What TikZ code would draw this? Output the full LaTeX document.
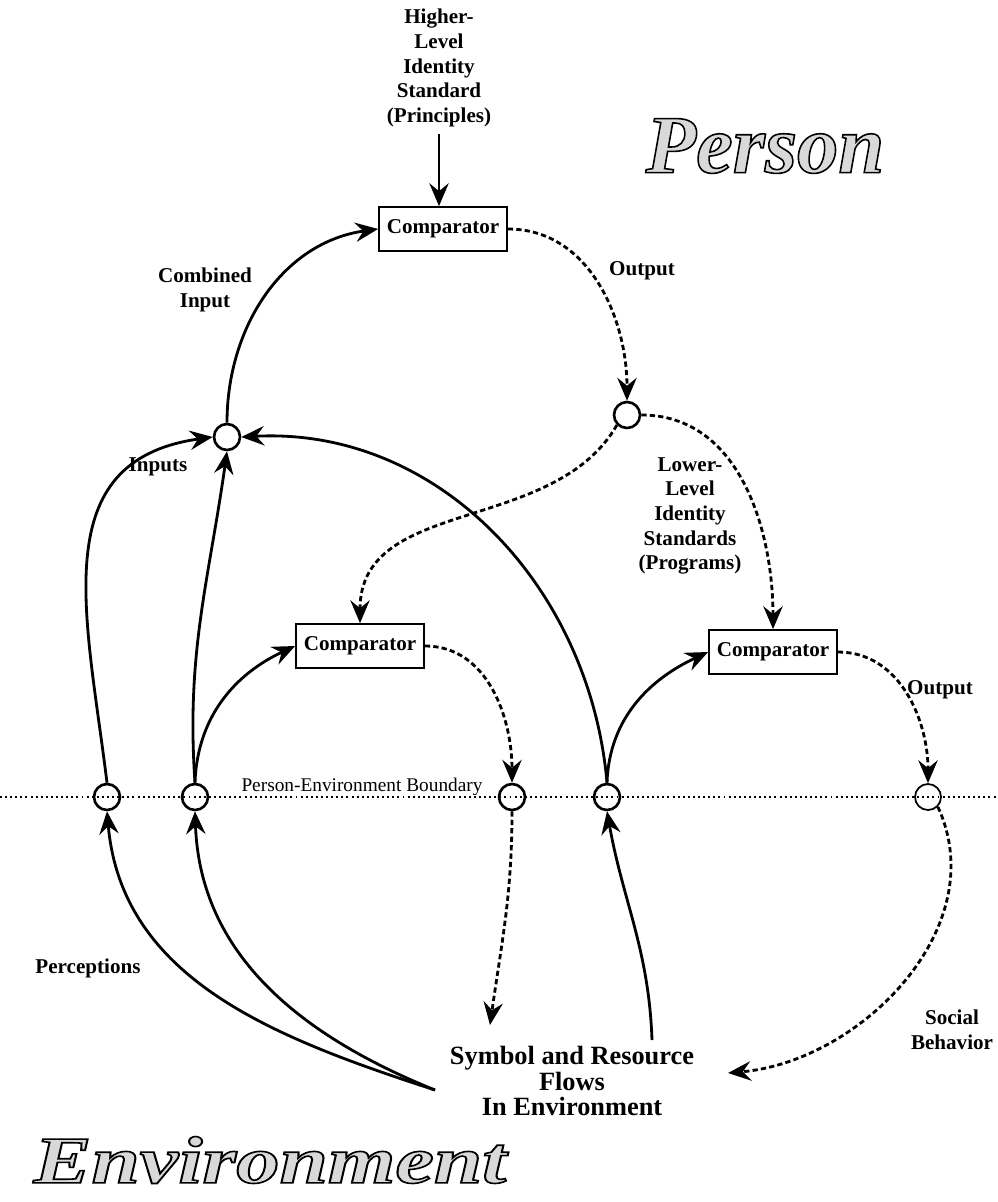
\documentclass[tikz,border=0pt]{standalone}
\usepackage{fontspec}
\setmainfont{Liberation Serif}
\usetikzlibrary{arrows.meta}

% outlined lettering (stroke + light fill)
\newcommand{\outlineword}[1]{\textcolor{black!15}{\special{pdf:literal direct 2 Tr 0.9 w 0 G}#1\special{pdf:literal direct 0 Tr}}}

\begin{document}
\begin{tikzpicture}[x=0.02cm,y=-0.02cm,>={Stealth[length=13pt,width=11pt,inset=4.5pt]},
  line width=1.6pt,
  comp node/.style={draw,line width=1pt,minimum width=2.56cm,minimum height=0.88cm,font=\fontsize{12}{14}\selectfont\bfseries},
  junction/.style={circle,draw,line width=1.5pt,minimum size=0.52cm,inner sep=0pt},
  lbl/.style={align=center,font=\fontsize{12}{14}\selectfont\bfseries},
  flow/.style={->,dash pattern=on 3pt off 1.8pt},
  big word/.style={font=\fontsize{47}{50}\selectfont\bfseries\itshape}]
  \useasboundingbox (0,0) rectangle (997,1202);

  % boundary line
  \coordinate (bl) at (0,797);
  \coordinate (br) at (997,797);
  \draw[line width=1.4pt,dash pattern=on 1.1pt off 1.8pt] (bl) -- (br);
  \node[font=\fontsize{11}{13}\selectfont] (pel) at (362,787) {Person-Environment Boundary};

  % comparators and junctions
  \node[lbl] (hls) at (439,68) {Higher-\\Level\\Identity\\Standard\\(Principles)};
  \node[comp node] (ctop) at (443,229) {Comparator};
  \node[comp node] (cmid) at (360,646) {Comparator};
  \node[comp node] (cright) at (773,652) {Comparator};
  \node[junction] (ci) at (227,437) {};
  \node[junction] (co) at (627,415) {};
  \node[junction] (b1) at (107,797) {};
  \node[junction] (b2) at (195,797) {};
  \node[junction] (b3) at (512,797) {};
  \node[junction] (b4) at (607,797) {};
  \node[junction,line width=1pt] (b5) at (928,797) {};

  % labels
  \node[lbl] (lci) at (205,290) {Combined\\Input};
  \node[lbl] (lout1) at (642,271) {Output};
  \node[lbl] (lls) at (690,516) {Lower-\\Level\\Identity\\Standards\\(Programs)};
  \node[lbl] (lin) at (158,467) {Inputs};
  \node[lbl] (lout2) at (940,690) {Output};
  \node[lbl] (lper) at (88,968) {Perceptions};
  \node[lbl] (lsoc) at (952,1030) {Social\\Behavior};
  \node[align=center,font=\fontsize{15}{14.7}\selectfont\bfseries] (flows) at (572,1081)
    {Symbol and Resource\\Flows\\In Environment};
  \coordinate (src) at (435,1090);
  \coordinate (src2) at (652,1040);
  \coordinate (e1) at (490,1025);
  \coordinate (e2) at (728,1073);

  \node[big word] (person) at (765,146) {\outlineword{Person}};
  \node[big word,font=\fontsize{38}{40}\selectfont\bfseries\itshape] (env) at (270,1160)
    {\scalebox{1.3}[1]{\outlineword{Environment}}};

  % solid inputs
  \draw[->] (hls.south) -- (hls.south |- ctop.north);
  \draw[->] (ci.north) to[out=90,in=188] (ctop.west);
  \draw[->] (b1.north) to[out=97,in=188,looseness=1.2] (ci.west);
  \draw[->] (b2.north) to[out=94,in=262] (ci.south);
  \draw[->] (b2.north) to[out=88,in=205] (cmid.west);
  \draw[->] (b4.north) to[out=95,in=3] (ci.east);
  \draw[->] (b4.north) to[out=88,in=205] (cright.west);
  \draw[->] (src) to[out=162,in=-85] (b1.south);
  \draw[->] (src) to[out=158,in=-88] (b2.south);
  \draw[->] (src2) to[out=92,in=-80] (b4.south);

  % dashed outputs
  \draw[flow] (ctop.east) to[out=0,in=90] (co.north);
  \draw[flow] (co.south west) to[out=240,in=90] (cmid.north);
  \draw[flow] (co.east) to[out=0,in=90] (cright.north);
  \draw[flow] (cmid.east) to[out=0,in=90] (b3.north);
  \draw[flow] (cright.east) to[out=0,in=90] (b5.north);
  \draw[flow] (b3.south) to[out=-90,in=82] (e1);
  \draw[flow] (b5.south east) to[out=-65,in=5] (e2);
\end{tikzpicture}
\end{document}
